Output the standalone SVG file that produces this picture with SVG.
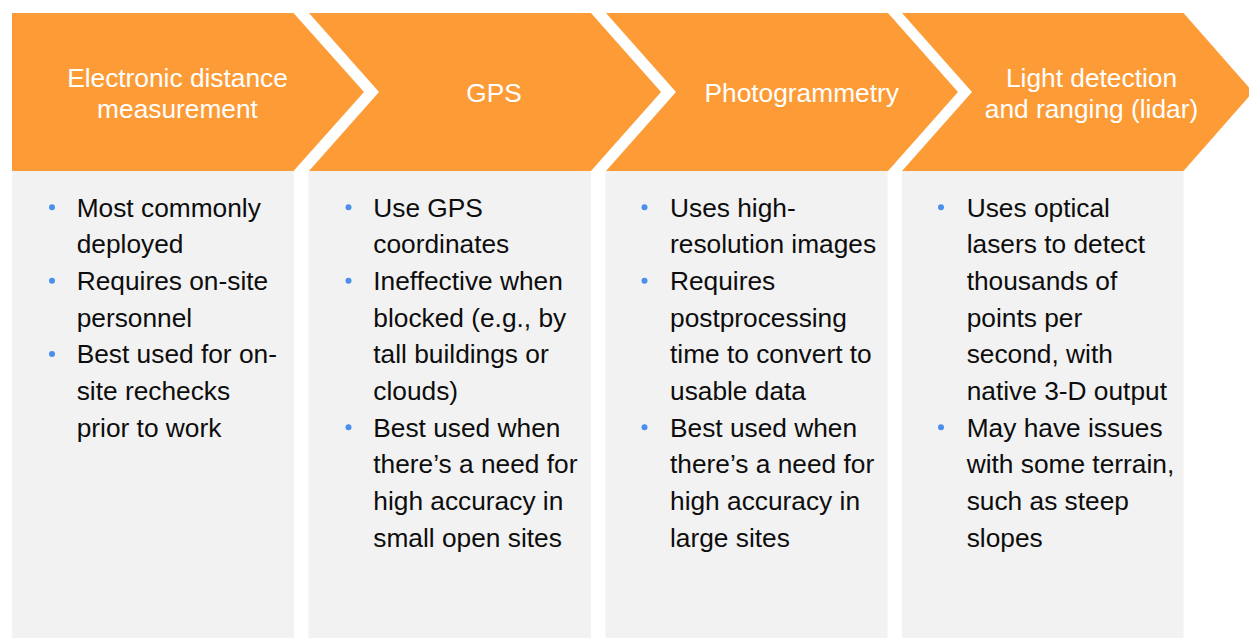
<svg xmlns="http://www.w3.org/2000/svg" width="1249" height="638" viewBox="0 0 1249 638">
  <style>
    .chev { fill: #FD9B37; }
    .panel { fill: #F2F2F2; }
    .head { font-family: "Liberation Sans", Arial, sans-serif; font-size: 26.3px; fill: #FFFFFF; text-anchor: middle; }
    .body { font-family: "Liberation Sans", Arial, sans-serif; font-size: 26.3px; fill: #0D0D0D; }
    .dot { fill: #4A8FEC; }
  </style>
  <rect width="1249" height="638" fill="#FFFFFF"/>

  <g id="step-edm">
    <rect class="panel" x="12" y="171" width="282" height="467"/>
    <polygon class="chev" points="12,13 293.5,13 364,92 293.5,171 12,171"/>
    <text class="head" x="177.5" y="87">Electronic distance</text>
    <text class="head" x="177.5" y="118">measurement</text>
    <circle class="dot" cx="52" cy="207.3" r="3"/>
    <circle class="dot" cx="52" cy="280.7" r="3"/>
    <circle class="dot" cx="52" cy="354" r="3"/>
    <text class="body" x="76.7" y="216.7">Most commonly</text>
    <text class="body" x="76.7" y="253.3">deployed</text>
    <text class="body" x="76.7" y="290">Requires on-site</text>
    <text class="body" x="76.7" y="326.7">personnel</text>
    <text class="body" x="76.7" y="363.3">Best used for on-</text>
    <text class="body" x="76.7" y="400">site rechecks</text>
    <text class="body" x="76.7" y="436.7">prior to work</text>
  </g>

  <g id="step-gps">
    <rect class="panel" x="308.5" y="171" width="282.5" height="467"/>
    <polygon class="chev" points="309,13 591,13 661,92 591,171 309,171 379,92"/>
    <text class="head" x="494" y="101.7">GPS</text>
    <circle class="dot" cx="348.5" cy="207.3" r="3"/>
    <circle class="dot" cx="348.5" cy="280.7" r="3"/>
    <circle class="dot" cx="348.5" cy="427.3" r="3"/>
    <text class="body" x="373.3" y="216.7">Use GPS</text>
    <text class="body" x="373.3" y="253.3">coordinates</text>
    <text class="body" x="373.3" y="290">Ineffective when</text>
    <text class="body" x="373.3" y="326.7">blocked (e.g., by</text>
    <text class="body" x="373.3" y="363.3">tall buildings or</text>
    <text class="body" x="373.3" y="400">clouds)</text>
    <text class="body" x="373.3" y="436.7">Best used when</text>
    <text class="body" x="373.3" y="473.3">there’s a need for</text>
    <text class="body" x="373.3" y="510">high accuracy in</text>
    <text class="body" x="373.3" y="546.7">small open sites</text>
  </g>

  <g id="step-photogrammetry">
    <rect class="panel" x="605.5" y="171" width="282" height="467"/>
    <polygon class="chev" points="606,13 888,13 958,92 888,171 606,171 676,92"/>
    <text class="head" x="801.7" y="101.7">Photogrammetry</text>
    <circle class="dot" cx="644.5" cy="207.3" r="3"/>
    <circle class="dot" cx="644.5" cy="280.7" r="3"/>
    <circle class="dot" cx="644.5" cy="427.3" r="3"/>
    <text class="body" x="670" y="216.7">Uses high-</text>
    <text class="body" x="670" y="253.3">resolution images</text>
    <text class="body" x="670" y="290">Requires</text>
    <text class="body" x="670" y="326.7">postprocessing</text>
    <text class="body" x="670" y="363.3">time to convert to</text>
    <text class="body" x="670" y="400">usable data</text>
    <text class="body" x="670" y="436.7">Best used when</text>
    <text class="body" x="670" y="473.3">there’s a need for</text>
    <text class="body" x="670" y="510">high accuracy in</text>
    <text class="body" x="670" y="546.7">large sites</text>
  </g>

  <g id="step-lidar">
    <rect class="panel" x="902" y="171" width="281.5" height="467"/>
    <polygon class="chev" points="902,13 1183.5,13 1253,92 1183.5,171 902,171 972,92"/>
    <text class="head" x="1091.5" y="87">Light detection</text>
    <text class="head" x="1091.5" y="118">and ranging (lidar)</text>
    <circle class="dot" cx="941" cy="207.3" r="3"/>
    <circle class="dot" cx="941" cy="427.3" r="3"/>
    <text class="body" x="966.7" y="216.7">Uses optical</text>
    <text class="body" x="966.7" y="253.3">lasers to detect</text>
    <text class="body" x="966.7" y="290">thousands of</text>
    <text class="body" x="966.7" y="326.7">points per</text>
    <text class="body" x="966.7" y="363.3">second, with</text>
    <text class="body" x="966.7" y="400">native 3-D output</text>
    <text class="body" x="966.7" y="436.7">May have issues</text>
    <text class="body" x="966.7" y="473.3">with some terrain,</text>
    <text class="body" x="966.7" y="510">such as steep</text>
    <text class="body" x="966.7" y="546.7">slopes</text>
  </g>
</svg>
